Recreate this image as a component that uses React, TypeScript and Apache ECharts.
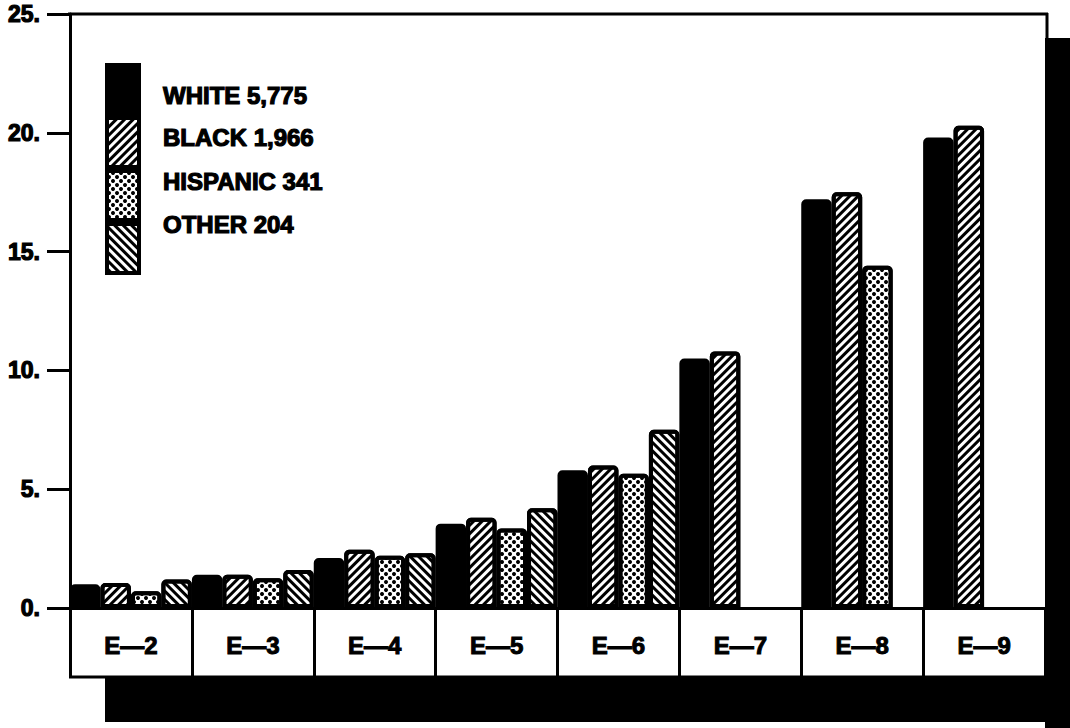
import React, { useEffect, useRef } from 'react';
import * as echarts from 'echarts';

const categories = ['E—2', 'E—3', 'E—4', 'E—5', 'E—6', 'E—7', 'E—8', 'E—9'];
const seriesNames = ['WHITE 5,775', 'BLACK 1,966', 'HISPANIC 341', 'OTHER 204'];
const whiteValues = [1.0, 1.4, 2.1, 3.55, 5.8, 10.5, 17.2, 19.8];
const blackValues = [1.05, 1.4, 2.45, 3.8, 6.0, 10.8, 17.5, 20.3];
const hispanicValues = [0.7, 1.25, 2.2, 3.35, 5.65, null, 14.4, null];
const otherValues = [1.2, 1.6, 2.3, 4.2, 7.5, null, null, null];
const yMin = 0;
const yMax = 25;
const yStep = 5;

const FONT = '"Liberation Sans", Arial, sans-serif';

const decals: any[] = [
  null,
  { symbol: 'rect', symbolSize: 1, color: '#000', dashArrayX: [1, 0], dashArrayY: [2.2, 2.4], rotation: -Math.PI / 4 },
  { symbol: 'circle', symbolSize: 1, color: '#000', dashArrayX: [[4, 4], [0, 4, 4, 0]], dashArrayY: [4, 0], rotation: 0 },
  { symbol: 'rect', symbolSize: 1, color: '#000', dashArrayX: [1, 0], dashArrayY: [2.8, 2.8], rotation: Math.PI / 4 },
];

export default function App() {
  const ref = useRef<HTMLDivElement>(null);
  useEffect(() => {
    if (!ref.current) return;
    const chart = echarts.init(ref.current, undefined, { renderer: 'svg' });
    const values = [whiteValues, blackValues, hispanicValues, otherValues];
    const legendTextY = [95, 137, 181, 224];
    chart.setOption({
      animation: false,
      backgroundColor: '#fff',
      grid: { left: 70, right: 25, top: 14, bottom: 120, containLabel: false },
      legend: {
        orient: 'vertical',
        left: 105,
        top: 63,
        itemWidth: 32,
        itemHeight: 49,
        itemGap: 0,
        padding: 0,
        icon: 'rect',
        selectedMode: false,
        formatter: () => '',
        itemStyle: { borderColor: '#000', borderWidth: 4 },
        data: seriesNames,
      },
      xAxis: {
        type: 'category',
        data: categories,
        boundaryGap: true,
        axisLine: { show: true, lineStyle: { color: '#000', width: 3 } },
        axisTick: { show: true, interval: 0, length: 69, lineStyle: { color: '#000', width: 3 } },
        axisLabel: {
          interval: 0,
          margin: 25,
          color: '#000',
          fontSize: 24,
          fontWeight: 'bold',
          fontFamily: FONT,
          textBorderColor: '#000',
          textBorderWidth: 1,
        },
        splitLine: { show: false },
      },
      yAxis: {
        type: 'value',
        min: yMin,
        max: yMax,
        interval: yStep,
        axisLine: { show: true, lineStyle: { color: '#000', width: 3 } },
        axisTick: { show: true, length: 23, lineStyle: { color: '#000', width: 3 } },
        axisLabel: {
          formatter: (v: number) => `${v}.`,
          margin: 30,
          color: '#000',
          fontSize: 23,
          fontWeight: 'bold',
          fontFamily: FONT,
          textBorderColor: '#000',
          textBorderWidth: 1.2,
        },
        splitLine: { show: false },
      },
      series: seriesNames.map((name, i) => ({
        name,
        type: 'bar',
        data: values[i],
        barGap: '0%',
        barCategoryGap: '0%',
        itemStyle: {
          color: i === 0 ? '#000' : '#fff',
          borderColor: '#000',
          borderWidth: 4,
          borderRadius: [3, 3, 0, 0],
          decal: decals[i] || undefined,
        },
      })),
      graphic: [
        { type: 'line', z: 10, shape: { x1: 68, y1: 14, x2: 1048, y2: 14 }, style: { stroke: '#000', lineWidth: 3 } },
        { type: 'line', z: 10, shape: { x1: 1047, y1: 13, x2: 1047, y2: 40 }, style: { stroke: '#000', lineWidth: 3 } },
        { type: 'rect', z: 10, shape: { x: 1045, y: 38, width: 25, height: 690 }, style: { fill: '#000' } },
        { type: 'line', z: 10, shape: { x1: 69, y1: 677, x2: 1047, y2: 677 }, style: { stroke: '#000', lineWidth: 3 } },
        { type: 'rect', z: 10, shape: { x: 105, y: 678, width: 965, height: 44 }, style: { fill: '#000' } },
        ...seriesNames.map((name, i) => ({
          type: 'text',
          z: 10,
          x: 163,
          y: legendTextY[i],
          style: {
            text: name,
            fill: '#000',
            font: `bold 24px ${FONT}`,
            verticalAlign: 'middle',
            stroke: '#000',
            lineWidth: 1.2,
          },
        })),
      ],
    });
    return () => chart.dispose();
  }, []);
  return (
    <div
      ref={ref}
      style={{ position: 'absolute', left: 0, top: 0, width: 1070, height: 728 }}
    />
  );
}
